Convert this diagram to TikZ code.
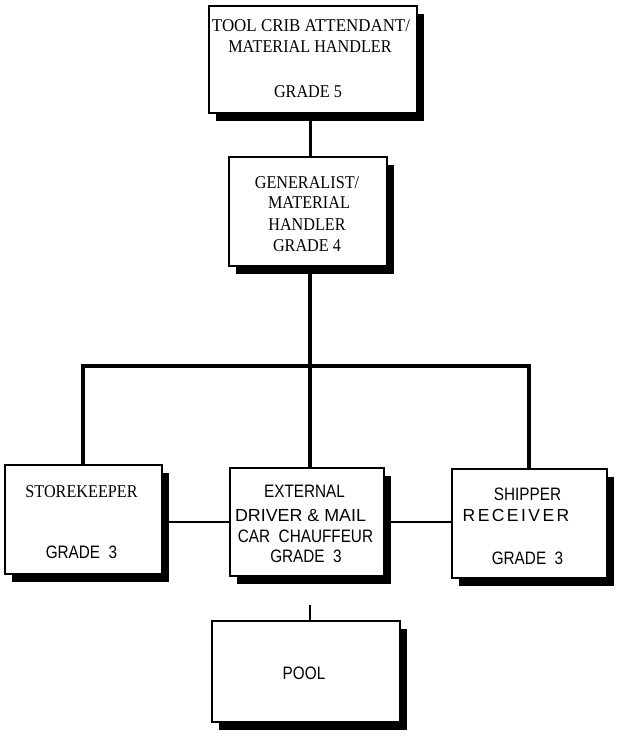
\documentclass[tikz,border=0pt]{standalone}
\usepackage{fontspec}
\setmainfont{Liberation Serif}[FakeStretch=0.9]
\newfontfamily\serifwide{Liberation Serif}[FakeStretch=0.94]
\newfontfamily\nsans{Liberation Sans}[FakeStretch=0.85]
\newfontfamily\wsans{Liberation Sans}[FakeStretch=1.02]
\newfontfamily\lsans{Liberation Sans}[LetterSpace=14]
\usetikzlibrary{shadows}
\tikzset{
  box/.style={draw, line width=1.8pt, fill=white, inner sep=0pt, anchor=north west,
    general shadow={fill=black, shadow xshift=7pt, shadow yshift=-8pt}},
  stxt/.style={anchor=base, inner sep=0pt, font=\fontsize{18}{20}\selectfont},
  swtxt/.style={anchor=base, inner sep=0pt, font=\serifwide\fontsize{18}{20}\selectfont},
  ntxt/.style={anchor=base, inner sep=0pt, font=\nsans\fontsize{18}{20}\selectfont},
  wtxt/.style={anchor=base, inner sep=0pt, font=\wsans\fontsize{17.5}{20}\selectfont},
  ltxt/.style={anchor=base, inner sep=0pt, font=\lsans\fontsize{17.5}{20}\selectfont},
  heavy/.style={line width=4pt, line join=miter},
  medium/.style={line width=3pt},
  light/.style={line width=2.5pt},
  hair/.style={line width=1.4pt}
}
\begin{document}
\begin{tikzpicture}[x=1pt,y=-1pt]
\useasboundingbox[fill=white] (0,0) rectangle (616,738);

% boxes
\node[box, minimum width=208pt, minimum height=107pt] (top) at (208,5) {};
\node[box, minimum width=158pt, minimum height=109pt] (gen) at (228,156) {};
\node[box, minimum width=157pt, minimum height=109pt] (store) at (4,464) {};
\node[box, minimum width=154pt, minimum height=108pt] (mid) at (229,467) {};
\node[box, minimum width=155pt, minimum height=109pt] (ship) at (451,468) {};
\node[box, minimum width=188pt, minimum height=101pt] (pool) at (211,620) {};

% connectors
\coordinate (bus) at (310,366);
\coordinate (tick) at (310,605);
\draw[medium] (top.south -| bus) -- (bus |- gen.north);
\draw[heavy] (bus |- gen.south) -- (bus);
\draw[heavy] (store.north) -- (store.north |- bus) -- (ship.north |- bus) -- (ship.north);
\draw[heavy] (bus) -- (bus |- mid.north);
\draw[light] (mid.west) -- (mid.west -| store.east);
\draw[light] (mid.east) -- (mid.east -| ship.west);
\draw[hair] (tick) -- (tick |- pool.north);

% texts: top
\node[swtxt] (t1) at (311,31.5) {TOOL CRIB ATTENDANT/};
\node[stxt] (t2) at (310,53) {MATERIAL HANDLER};
\node[stxt] (t3) at (308,98) {GRADE 5};
% generalist
\node[stxt] (g1) at (307,188) {GENERALIST/};
\node[stxt] (g2) at (309,208.5) {MATERIAL};
\node[stxt] (g3) at (307,230) {HANDLER};
\node[stxt] (g4) at (307,251) {GRADE 4};
% storekeeper
\node[stxt] (s1) at (81.5,497) {STOREKEEPER};
\node[ntxt] (s2) at (81.5,558) {GRADE\ \ 3};
% middle
\node[ntxt] (m1) at (304.5,497) {EXTERNAL};
\node[wtxt] (m2) at (300.5,521) {DRIVER \& MAIL};
\node[ntxt] (m3) at (305.5,542) {CAR\ \ CHAUFFEUR};
\node[ntxt] (m4) at (306,562) {GRADE\ \ 3};
% shipper
\node[ntxt] (p1) at (527.5,500) {SHIPPER};
\node[ltxt] (p2) at (516,521) {RECEIVER};
\node[ntxt] (p3) at (527.5,564) {GRADE\ \ 3};
% pool
\node[ntxt] (o1) at (304,679) {POOL};
\end{tikzpicture}
\end{document}
